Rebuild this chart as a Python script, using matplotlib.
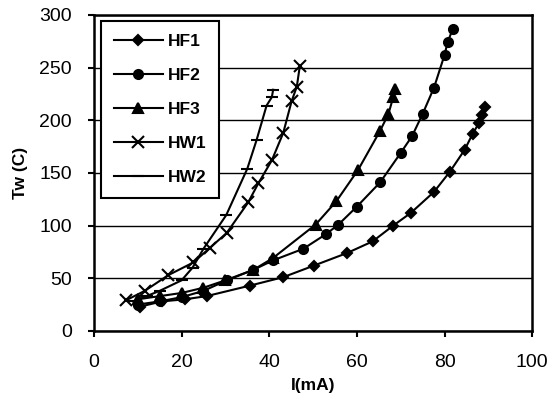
# -*- coding: utf8 -*-
import matplotlib
matplotlib.use('Agg')
import matplotlib.pyplot as plt

plt.rc('font', family=['Liberation Sans', 'DejaVu Sans'])

hf1_x = [10.5, 15.5, 20.8, 25.7, 35.6, 43.2, 50.2, 57.8, 63.6, 68.3, 72.3, 77.6, 81.2, 84.6, 86.4, 87.8, 88.5, 89.3]
hf1_y = [23, 28, 30, 33, 43, 51, 62, 74, 85, 100, 112, 132, 151, 172, 187, 197, 205, 213]

hf2_x = [10, 15, 20, 25, 30.3, 36.4, 40.9, 47.8, 53, 55.8, 60, 65.3, 70, 72.6, 75, 77.6, 80, 80.7, 81.9]
hf2_y = [25, 28, 32, 38, 48, 58, 67, 78, 92, 101, 118, 141, 169, 185, 206, 231, 262, 274, 287]

hf3_x = [10, 15, 20, 25, 30, 36.4, 40.8, 50.6, 55.3, 60.3, 65.3, 67.2, 68.3, 68.7]
hf3_y = [30, 33, 36, 41, 48, 58, 69, 101, 123, 153, 190, 206, 222, 230]

hw1_x = [7.3, 11.6, 17, 22.7, 26.5, 30.3, 35.2, 37.5, 40.6, 43.2, 45.1, 46.3, 47]
hw1_y = [29, 38, 53, 65, 79, 93, 122, 140, 162, 188, 218, 232, 252]

hw2_x = [9, 12, 15, 20, 22.5, 25, 30.2, 35, 37.1, 39.4, 40.6, 40.9]
hw2_y = [28, 33, 38, 48, 60, 78, 110, 154, 181, 214, 222, 229]

series = [
    ('HF1', hf1_x, hf1_y, 'D', 5),
    ('HF2', hf2_x, hf2_y, 'o', 6.5),
    ('HF3', hf3_x, hf3_y, '^', 7),
    ('HW1', hw1_x, hw1_y, 'x', 8),
    ('HW2', hw2_x, hw2_y, '_', 9),
]

fig = plt.figure(figsize=(5.59, 4.05), dpi=100)
ax = fig.add_axes([0.168, 0.183, 0.784, 0.78])

for name, xs, ys, mk, ms in series:
    ax.plot(xs, ys, color='black', linewidth=1.5, marker=mk, markersize=ms,
            markeredgewidth=1.5, label=name)

ax.set_xlim(0, 100)
ax.set_ylim(0, 300)
ax.set_xticks(range(0, 101, 20))
ax.set_yticks(range(0, 301, 50))
ax.yaxis.grid(True, color='black', linewidth=1)
ax.set_axisbelow(True)
for s in ax.spines.values():
    s.set_linewidth(1.8)
ax.tick_params(direction='out', length=4, width=1.5, labelsize=14)
ax.tick_params(axis='x', pad=13)
ax.tick_params(axis='y', pad=12)

ax.set_xlabel('I(mA)', fontsize=12.5, fontweight='bold', labelpad=5)
ax.set_ylabel('Tw (C)', fontsize=12.5, fontweight='bold', labelpad=8)

leg = ax.legend(loc='upper left', bbox_to_anchor=(0.016, 0.98), borderaxespad=0,
                fancybox=False, edgecolor='black', framealpha=1,
                prop={'size': 12.5, 'weight': 'bold'},
                handlelength=2.8, labelspacing=1.08, borderpad=0.75, handletextpad=0.3)
leg.get_frame().set_linewidth(1.5)

fig.savefig('out.png', dpi=100)
